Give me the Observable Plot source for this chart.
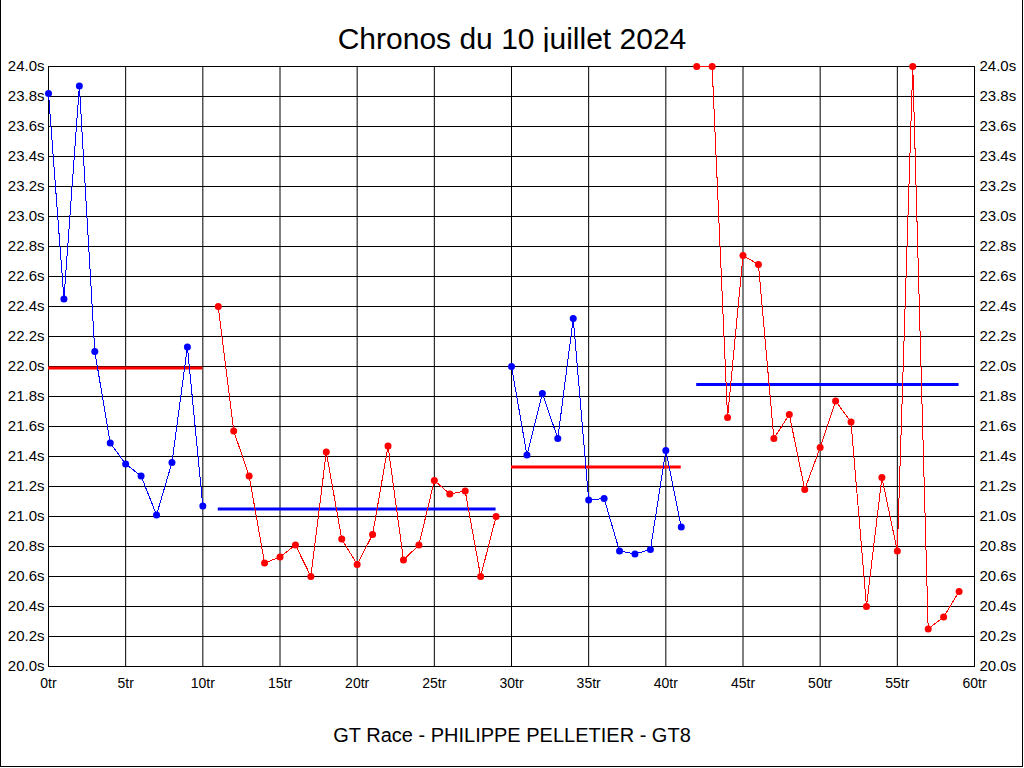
<!DOCTYPE html>
<html>
<head>
<meta charset="utf-8">
<script src="https://cdn.jsdelivr.net/npm/d3@7"></script>
<script src="https://cdn.jsdelivr.net/npm/@observablehq/plot@0.6"></script>
<style>
  html, body { margin: 0; padding: 0; background: #fff; }
  #wrap { position: relative; width: 1024px; height: 768px; overflow: hidden; background: #fff;
          font-family: "Liberation Sans", Arial, sans-serif; color: #000; }
  #title { position: absolute; left: 0; top: 22px; width: 1024px; text-align: center; font-size: 30px; }
  #caption { position: absolute; left: 0; top: 724px; width: 1024px; text-align: center; font-size: 20px; }
  #chart { position: absolute; left: 0; top: 52px; }
  #chart svg g[aria-label="y-axis tick label"] text { font-size: 15px; }
  #border { position: absolute; left: 0; top: 0; width: 1023px; height: 767px; box-sizing: border-box;
            border-left: 1px solid #000; border-right: 1px solid #000; border-bottom: 1px solid #000; pointer-events: none; }
</style>
</head>
<body>
<div id="wrap">
  <div id="title">Chronos du 10 juillet 2024</div>
  <div id="chart"></div>
  <div id="caption">GT Race - PHILIPPE PELLETIER - GT8</div>
  <div id="border"></div>
</div>
<script>
// Stint 1 (blue)
const lapsA  = [0, 1, 2, 3, 4, 5, 6, 7, 8, 9, 10];
const timesA = [23.82, 22.45, 23.87, 22.10, 21.49, 21.35, 21.27, 21.01, 21.36, 22.13, 21.07];
// Stint 2 (red)
const lapsB  = [11, 12, 13, 14, 15, 16, 17, 18, 19, 20, 21, 22, 23, 24, 25, 26, 27, 28, 29];
const timesB = [22.40, 21.57, 21.27, 20.69, 20.73, 20.81, 20.60, 21.43, 20.85, 20.68, 20.88, 21.47, 20.71, 20.81, 21.24, 21.15, 21.17, 20.60, 21.00];
// Stint 3 (blue)
const lapsC  = [30, 31, 32, 33, 34, 35, 36, 37, 38, 39, 40, 41];
const timesC = [22.00, 21.41, 21.82, 21.52, 22.32, 21.11, 21.12, 20.77, 20.75, 20.78, 21.44, 20.93];
// Stint 4 (red)
const lapsD  = [42, 43, 44, 45, 46, 47, 48, 49, 50, 51, 52, 53, 54, 55, 56, 57, 58, 59];
const timesD = [24.00, 24.00, 21.66, 22.74, 22.68, 21.52, 21.68, 21.18, 21.46, 21.77, 21.63, 20.40, 21.26, 20.77, 24.00, 20.25, 20.33, 20.50];

// Stint averages
const avgStart = [0, 11, 30, 42];
const avgEnd   = [10, 29, 41, 59];
const avgValue = [21.99, 21.05, 21.33, 21.88];

const stintColors = ["#0000ff", "#ff0000", "#0000ff", "#ff0000"];
const avgColors   = ["#ff0000", "#0000ff", "#ff0000", "#0000ff"];

const xTicks = [0, 5, 10, 15, 20, 25, 30, 35, 40, 45, 50, 55, 60];
const yTicks = [20.0, 20.2, 20.4, 20.6, 20.8, 21.0, 21.2, 21.4, 21.6, 21.8, 22.0, 22.2, 22.4, 22.6, 22.8, 23.0, 23.2, 23.4, 23.6, 23.8, 24.0];

const stints = [[lapsA, timesA], [lapsB, timesB], [lapsC, timesC], [lapsD, timesD]].map(([laps, times], i) =>
  laps.map((lap, j) => ({lap, time: times[j], stint: i})));
const avgRows = avgValue.map((v, i) => ({x1: avgStart[i], x2: avgEnd[i], y: v, stint: i}));

const yFmt = d => d.toFixed(1) + "s";
const marks = [
  Plot.gridY(yTicks, {stroke: "#000", strokeOpacity: 1}),
  Plot.gridX(xTicks, {stroke: "#000", strokeOpacity: 1}),
  Plot.frame({stroke: "#000"}),
  Plot.axisY(yTicks, {anchor: "left", tickSize: 0, tickPadding: 4, tickFormat: yFmt, fontSize: 15, label: null}),
  Plot.axisY(yTicks, {anchor: "right", tickSize: 0, tickPadding: 5, tickFormat: yFmt, fontSize: 15, label: null}),
  Plot.axisX(xTicks, {anchor: "bottom", tickSize: 0, tickPadding: 12, tickFormat: d => d + "tr", fontSize: 14, label: null})
];
avgRows.forEach((r, i) => {
  marks.push(Plot.ruleY([r], {x1: "x1", x2: "x2", y: "y", stroke: avgColors[i], strokeWidth: 3}));
});
stints.forEach((rows, i) => {
  marks.push(Plot.line(rows, {x: "lap", y: "time", stroke: stintColors[i], strokeWidth: 1, shapeRendering: "crispEdges"}));
  marks.push(Plot.dot(rows, {x: "lap", y: "time", fill: stintColors[i], r: 3.5, stroke: null}));
});

const chart = Plot.plot({
  width: 1024,
  height: 660,
  marginLeft: 48,
  marginRight: 50,
  marginTop: 14,
  marginBottom: 46,
  style: {fontFamily: "'Liberation Sans', Arial, sans-serif", fontSize: "14px", color: "#000", background: "#fff", overflow: "visible"},
  x: {domain: [0, 60]},
  y: {domain: [20, 24]},
  clip: false,
  marks
});
document.getElementById("chart").appendChild(chart);
</script>
</body>
</html>
